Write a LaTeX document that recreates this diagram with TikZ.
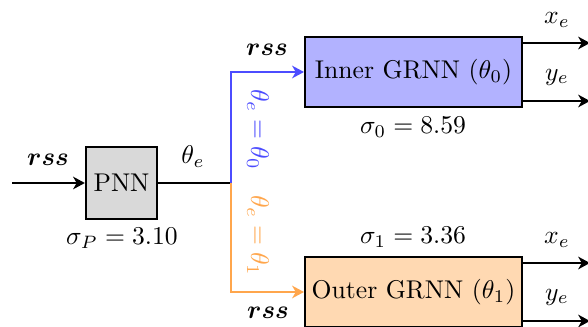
\documentclass[tikz,border=0pt]{standalone}
\usepackage{amsmath,bm}
\usetikzlibrary{arrows.meta}
\begin{document}
\begin{tikzpicture}[x=0.39pt,y=-0.39pt,
  blk/.style={draw, line width=0.85pt, inner sep=0pt, align=center},
  wire/.style={line width=0.85pt},
  arr/.style={wire, -{Stealth[length=4.6pt,width=4.9pt,inset=1.4pt]}},
  lbl/.style={inner sep=0pt},
]
\useasboundingbox (0,0) rectangle (588,327);

% blocks
\node[blk, fill=gray!30, minimum width=27.7pt, minimum height=28.1pt] (pnn) at (121.5,183) {PNN};
\node[blk, fill=blue!30, minimum width=84.6pt, minimum height=27.3pt] (inner) at (413.5,72) {Inner GRNN ($\theta_0$)};
\node[blk, fill=orange!30, minimum width=84.6pt, minimum height=27.3pt] (outer) at (413.5,292) {Outer GRNN ($\theta_1$)};

% free ends and junction
\coordinate (src) at (12,183);
\coordinate (j) at (231,183);
\coordinate (ix) at (590,43);
\coordinate (iy) at (590,101);
\coordinate (ox) at (590,263);
\coordinate (oy) at (590,321);

% connectors
\draw[arr] (src) -- (pnn.west);
\draw[wire] (pnn.east) -- (j);
\draw[arr, blue!70] (j) |- (inner.west);
\draw[arr, orange!70] (j) |- (outer.west);
\draw[arr] (inner.east |- ix) -- (ix);
\draw[arr] (inner.east |- iy) -- (iy);
\draw[arr] (outer.east |- ox) -- (ox);
\draw[arr] (outer.east |- oy) -- (oy);

% labels
\node[lbl] (rssin) at (48,160) {$\bm{rss}$};
\node[lbl] (the) at (193,157) {$\theta_e$};
\node[lbl] (sigp) at (122,238) {$\sigma_P = 3.10$};
\node[lbl, rotate=-90, text=blue!70] (sel0) at (258,130) {$\theta_e = \theta_0$};
\node[lbl, rotate=-90, text=orange!70] (sel1) at (258,236) {$\theta_e = \theta_1$};
\node[lbl] (rsstop) at (267,50) {$\bm{rss}$};
\node[lbl] (rssbot) at (268,313) {$\bm{rss}$};
\node[lbl] (sig0) at (413,127) {$\sigma_0 = 8.59$};
\node[lbl] (sig1) at (413,237) {$\sigma_1 = 3.36$};
\node[lbl] (xi) at (557,20) {$x_e$};
\node[lbl] (yi) at (557,77) {$y_e$};
\node[lbl] (xo) at (557,240) {$x_e$};
\node[lbl] (yo) at (557,297) {$y_e$};
\end{tikzpicture}
\end{document}
